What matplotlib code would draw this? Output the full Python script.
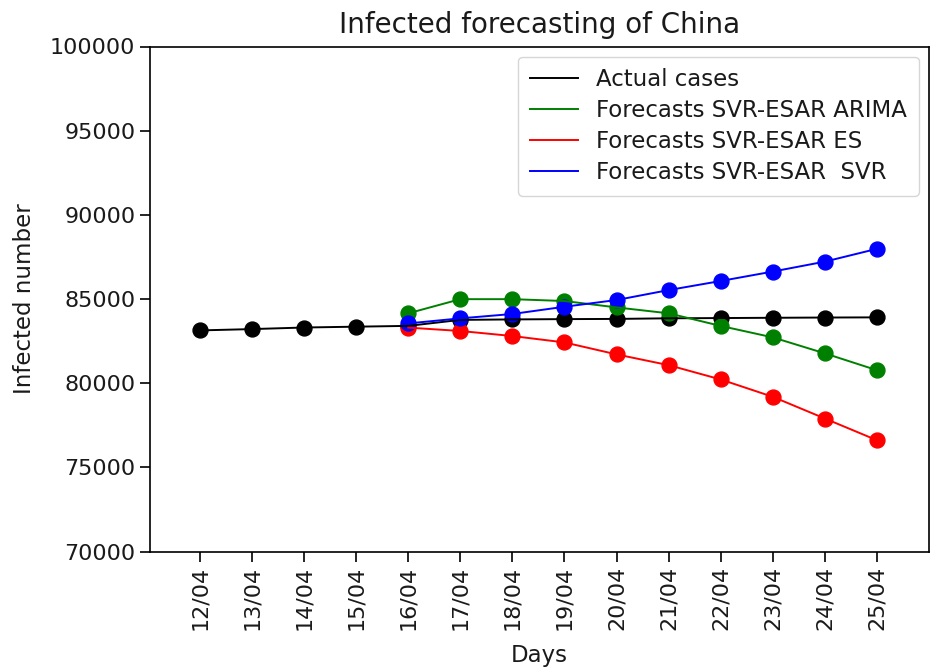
import numpy as np
import matplotlib
matplotlib.use("Agg")
import matplotlib.pyplot as plt

# dates shown on the x axis
days = ["12/04", "13/04", "14/04", "15/04", "16/04", "17/04", "18/04",
        "19/04", "20/04", "21/04", "22/04", "23/04", "24/04", "25/04"]

# actual cumulative cases
actual = [83134, 83213, 83306, 83356, 83403, 83760, 83787,
          83805, 83817, 83853, 83868, 83884, 83899, 83909]

# forecasts start on 16/04
fc_days = days[4:]
arima = [84150, 84990, 84990, 84880, 84500, 84150, 83400, 82720, 81770, 80770]
es = [83300, 83100, 82800, 82420, 81710, 81070, 80220, 79190, 77900, 76610]
svr = [83550, 83850, 84110, 84540, 84940, 85530, 86070, 86630, 87220, 87980]

x = np.arange(len(days))
xf = x[4:]

fig = plt.figure(figsize=(9.36, 6.71), dpi=100)
ax = fig.add_axes([150/936, 1 - 551.5/671, (929 - 150)/936, (551.5 - 46.5)/671])

ax.plot(x, actual, color="k", lw=1.4, label="Actual cases")
ax.plot(xf, arima, color="g", lw=1.4, label="Forecasts SVR-ESAR ARIMA")
ax.plot(xf, es, color="r", lw=1.4, label="Forecasts SVR-ESAR ES")
ax.plot(xf, svr, color="b", lw=1.4, label="Forecasts SVR-ESAR  SVR")
ax.scatter(x, actual, color="k", s=115)
ax.scatter(xf, arima, color="g", s=115)
ax.scatter(xf, es, color="r", s=115)
ax.scatter(xf, svr, color="b", s=115)

ax.set_xlim(-0.96, 14.0)
ax.set_ylim(70000, 100000)
ax.set_xticks(x)
ax.set_xticklabels(days, rotation=90)
ax.tick_params(labelsize=16, length=7, width=1.2, labelcolor="#1a1a1a")
for s in ax.spines.values():
    s.set_linewidth(1.2)

ax.set_title("Infected forecasting of China", fontsize=20, pad=10, color="#1a1a1a")
ax.set_xlabel("Days", fontsize=16.5, labelpad=10, color="#1a1a1a")
ax.set_ylabel("Infected number", fontsize=16.5, labelpad=10, color="#1a1a1a")
leg = ax.legend(loc="upper right", fontsize=16.5, handlelength=2.1,
                borderaxespad=0.45, labelspacing=0.35, borderpad=0.5)
for t in leg.get_texts():
    t.set_color("#1a1a1a")

fig.savefig("out.png", dpi=100)
